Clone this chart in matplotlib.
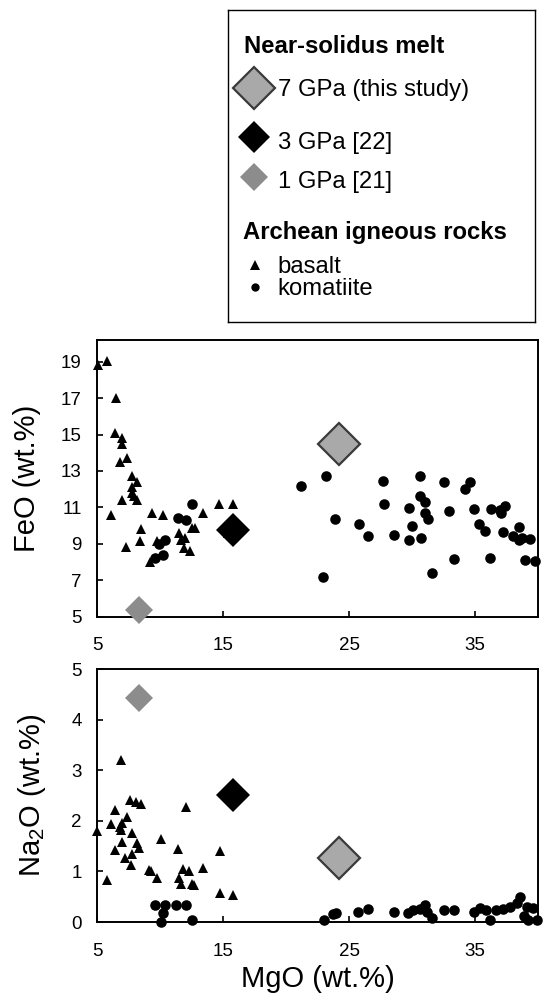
import matplotlib
matplotlib.use("Agg")
import matplotlib.pyplot as plt

plt.rcParams['font.family'] = ['Liberation Sans', 'DejaVu Sans']
plt.rcParams['mathtext.default'] = 'regular'

# ---- data ----
# near-solidus melts (MgO, FeO, Na2O)
melt_labels = ['7 GPa (this study)', '3 GPa [22]', '1 GPa [21]']
melt_mgo = [24.2, 15.8, 8.3]
melt_feo = [14.46, 9.75, 5.36]
melt_na2o = [1.27, 2.51, 4.42]

# Archean basalts, FeO panel
bas_mgo_fe = [5.05, 5.8, 6.5, 6.4, 7.0, 7.0, 6.8, 7.4, 7.8, 8.2, 7.75, 7.8, 7.0, 8.2,
              7.9, 6.1, 9.4, 10.2, 13.4, 14.7, 15.8, 7.3, 8.5, 8.4, 9.8, 11.5, 11.7,
              11.9, 12.4, 12.5, 12.8, 12.0, 9.2, 15.4]
bas_feo = [18.8, 19.05, 17.0, 15.1, 14.8, 14.5, 13.5, 13.7, 12.7, 12.4, 12.1, 11.8, 11.4, 11.4,
           11.6, 10.6, 10.7, 10.6, 10.7, 11.2, 11.2, 8.8, 9.8, 9.15, 9.15, 9.6, 9.2,
           8.75, 8.6, 9.85, 9.85, 9.3, 8.0, 9.6]

# Archean komatiites, FeO panel
kom_mgo_fe = [12.5, 11.4, 12.1, 10.4, 9.9, 10.2, 9.6,
              21.2, 23.2, 23.9, 22.9, 25.8, 26.5, 27.7, 27.8, 28.6, 29.8, 30.0, 29.8,
              30.7, 30.6, 30.6, 31.0, 31.0, 31.3, 31.6, 32.5, 32.9, 33.3, 34.2, 34.6,
              34.9, 35.3, 35.8, 36.2, 36.3, 37.0, 37.4, 37.1, 37.2, 38.5, 38.0, 38.7,
              39.4, 39.0, 39.8, 38.5]
kom_feo = [11.2, 10.4, 10.3, 9.2, 9.0, 8.4, 8.2,
           12.2, 12.7, 10.35, 7.15, 10.1, 9.4, 12.45, 11.2, 9.5, 10.95, 9.97, 9.2,
           9.3, 12.7, 11.6, 11.3, 10.7, 10.35, 7.4, 12.4, 10.8, 8.15, 12.0, 12.4,
           10.9, 10.1, 9.7, 8.2, 10.9, 10.85, 11.05, 10.7, 9.65, 9.9, 9.4, 9.3,
           9.25, 8.1, 8.05, 9.2]

# Archean basalts, Na2O panel
bas_mgo_na = [6.9, 5.0, 5.8, 6.1, 6.4, 6.4, 6.8, 7.0, 7.0, 6.9, 7.2, 7.35, 7.6, 8.1,
              8.5, 7.8, 8.2, 8.3, 7.8, 7.7, 10.1, 11.45, 12.1, 9.15, 9.3, 9.8, 11.85,
              12.3, 11.5, 11.7, 12.5, 12.7, 13.4, 14.8, 14.8, 15.8]
bas_na2o = [3.2, 1.8, 0.83, 1.94, 2.21, 1.42, 1.88, 1.95, 1.59, 1.82, 1.26, 2.07, 2.42, 2.38,
            2.33, 1.75, 1.56, 1.46, 1.34, 1.13, 1.65, 1.44, 2.28, 1.03, 1.01, 0.86, 1.04,
            1.01, 0.86, 0.76, 0.75, 0.73, 1.06, 1.41, 0.57, 0.53]

# Archean komatiites, Na2O panel
kom_mgo_na = [9.6, 10.4, 11.3, 12.1, 10.1, 10.25, 12.5,
              23.0, 23.7, 24.0, 25.7, 26.5, 28.6, 29.7, 30.1, 30.6, 31.0, 31.2, 31.6,
              32.5, 33.3, 34.9, 35.4, 35.9, 36.2, 36.7, 37.2, 37.8, 38.6, 38.3, 39.1,
              39.6, 39.2, 39.9, 38.9]
kom_na2o = [0.34, 0.34, 0.34, 0.34, 0.0, 0.17, 0.04,
            0.03, 0.15, 0.17, 0.2, 0.25, 0.2, 0.17, 0.24, 0.25, 0.34, 0.2, 0.07,
            0.24, 0.24, 0.2, 0.27, 0.24, 0.03, 0.24, 0.25, 0.3, 0.5, 0.37, 0.3,
            0.27, 0.04, 0.03, 0.12]

# marker styles for the three melts
melt_face = ['#a9a9a9', 'black', '#8c8c8c']
melt_edge = ['#3a3a3a', 'black', '#8c8c8c']
melt_size = [21.5, 17, 14.5]
melt_ew = [1.6, 0, 0]

fig = plt.figure(figsize=(5.44, 9.97), dpi=100)


def style_axes(ax):
    for s in ax.spines.values():
        s.set_linewidth(1.4)
    ax.tick_params(direction='in', length=4, width=1.2, labelsize=13.5)
    ax.tick_params(axis='y', pad=11)
    ax.tick_params(axis='x', pad=15)


# ---- top panel: FeO ----
ax1 = fig.add_axes([97 / 544, 1 - 616.5 / 997, 441 / 544, 276.5 / 997])
ax1.plot(bas_mgo_fe, bas_feo, '^', color='black', ms=6.5, mew=0, clip_on=False)
ax1.plot(kom_mgo_fe, kom_feo, 'o', color='black', ms=7.6, mew=0, clip_on=False)
for i in range(3):
    ax1.plot(melt_mgo[i], melt_feo[i], 'D', ms=melt_size[i], mfc=melt_face[i],
             mec=melt_edge[i], mew=melt_ew[i], clip_on=False, zorder=3)
ax1.set_xlim(5, 40)
ax1.set_ylim(5, 20.2)
ax1.set_xticks([5, 15, 25, 35])
ax1.set_yticks([5, 7, 9, 11, 13, 15, 17, 19])
ax1.set_ylabel('FeO (wt.%)', fontsize=21, labelpad=14)
style_axes(ax1)

# ---- bottom panel: Na2O ----
ax2 = fig.add_axes([97 / 544, 1 - 922 / 997, 441 / 544, 253 / 997])
ax2.plot(bas_mgo_na, bas_na2o, '^', color='black', ms=6.5, mew=0, clip_on=False)
ax2.plot(kom_mgo_na, kom_na2o, 'o', color='black', ms=7.6, mew=0, clip_on=False)
for i in range(3):
    ax2.plot(melt_mgo[i], melt_na2o[i], 'D', ms=melt_size[i], mfc=melt_face[i],
             mec=melt_edge[i], mew=melt_ew[i], clip_on=False, zorder=3)
ax2.set_xlim(5, 40)
ax2.set_ylim(0, 5)
ax2.set_xticks([5, 15, 25, 35])
ax2.set_yticks([0, 1, 2, 3, 4, 5])
ax2.set_ylabel('Na$_2$O (wt.%)', fontsize=21, labelpad=17)
ax2.set_xlabel('MgO (wt.%)', fontsize=21, labelpad=4)
style_axes(ax2)

# ---- legend box (drawn in pixel-like units) ----
lg = fig.add_axes([228 / 544, 1 - 322 / 997, 307 / 544, 312 / 997])
lg.set_xlim(228, 535)
lg.set_ylim(322, 10)
lg.set_xticks([])
lg.set_yticks([])
for s in lg.spines.values():
    s.set_linewidth(1.0)

fs = 17.2
lg.text(244, 53, 'Near-solidus melt', fontsize=fs, fontweight='bold', va='baseline')
leg_y = [88, 137, 177]
leg_base = [96.5, 149, 188]
for i in range(3):
    lg.plot(254, leg_y[i], 'D', ms=melt_size[i] - 0.5, mfc=melt_face[i],
            mec=melt_edge[i], mew=melt_ew[i])
    lg.text(278, leg_base[i], melt_labels[i], fontsize=fs, va='baseline')
lg.text(243, 239, 'Archean igneous rocks', fontsize=fs, fontweight='bold', va='baseline')
lg.plot(255, 265, '^', color='black', ms=7.5, mew=0)
lg.text(277, 273, 'basalt', fontsize=fs, va='baseline')
lg.plot(255, 287, 'o', color='black', ms=6, mew=0)
lg.text(277, 295, 'komatiite', fontsize=fs, va='baseline')

fig.savefig('out.png', dpi=100)
